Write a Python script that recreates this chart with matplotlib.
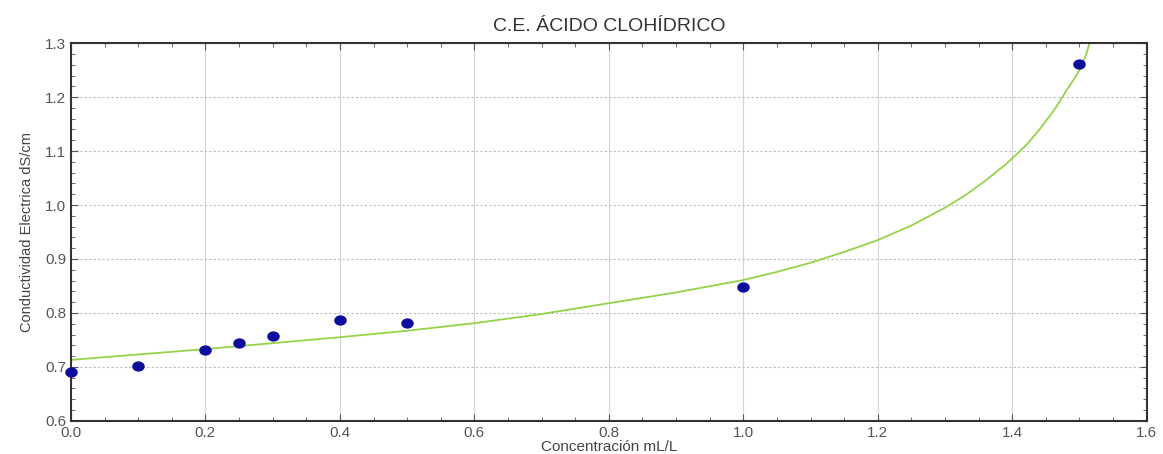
import matplotlib.pyplot as plt
from matplotlib.ticker import MultipleLocator
from matplotlib.path import Path
from matplotlib.transforms import Affine2D

# datos medidos
conc = [0.0, 0.1, 0.2, 0.25, 0.3, 0.4, 0.5, 1.0, 1.5]
ce = [0.691, 0.702, 0.732, 0.745, 0.758, 0.786, 0.781, 0.848, 1.261]

# curva ajustada
curva_x = [0.0, 0.1, 0.2, 0.3, 0.4, 0.5, 0.6, 0.7, 0.8, 0.9, 1.0, 1.05, 1.1,
           1.15, 1.2, 1.25, 1.3, 1.33, 1.36, 1.39, 1.42, 1.44, 1.46, 1.47,
           1.48, 1.49, 1.5, 1.505, 1.51, 1.515]
curva_y = [0.713, 0.723, 0.733, 0.744, 0.755, 0.767, 0.781, 0.798, 0.818,
           0.838, 0.861, 0.876, 0.893, 0.913, 0.935, 0.962, 0.995, 1.018,
           1.045, 1.075, 1.110, 1.139, 1.172, 1.191, 1.211, 1.230, 1.250,
           1.263, 1.280, 1.300]

plt.rcParams['font.family'] = ['Liberation Sans', 'DejaVu Sans']

# marcador algo achatado, como en el original
elipse = Path.unit_circle().transformed(Affine2D().scale(1.25, 1.0))

fig = plt.figure(figsize=(11.63, 4.54), dpi=100)
ax = fig.add_axes([0.061, 0.073, 0.925, 0.832])

ax.plot(curva_x, curva_y, color='#95d24a', lw=1.3, zorder=2)
ax.plot(conc, ce, ls='none', marker=elipse, color='#0c0c9c', ms=8,
        zorder=3, clip_on=False)

ax.set_xlim(0, 1.6)
ax.set_ylim(0.6, 1.3)
ax.xaxis.set_major_locator(MultipleLocator(0.2))
ax.xaxis.set_minor_locator(MultipleLocator(0.05))
ax.yaxis.set_major_locator(MultipleLocator(0.1))
ax.yaxis.set_minor_locator(MultipleLocator(0.02))
ax.xaxis.set_major_formatter(lambda v, p: f"{v:.1f}")
ax.yaxis.set_major_formatter(lambda v, p: f"{v:.1f}")

ax.tick_params(which='both', direction='in', top=True, right=True,
               labelsize=11, labelcolor='#555555', color='#555555')
ax.tick_params(which='major', length=5)
ax.tick_params(which='minor', length=3)

ax.grid(axis='x', which='major', color='#d4d4d4', lw=0.8, ls='-')
ax.grid(axis='y', which='major', color='#bbbbbb', lw=0.8, ls=(0, (2, 2)))
for s in ax.spines.values():
    s.set_linewidth(1.5)
    s.set_color('#333333')

ax.set_title("C.E. ÁCIDO CLOHÍDRICO", fontsize=14, color='#333333', pad=9)
ax.set_xlabel("Concentración mL/L", fontsize=11, color='#444444', labelpad=0)
ax.set_ylabel("Conductividad Electrica dS/cm", fontsize=10.5, color='#444444',
              labelpad=8)

fig.savefig("out.png", dpi=100)
